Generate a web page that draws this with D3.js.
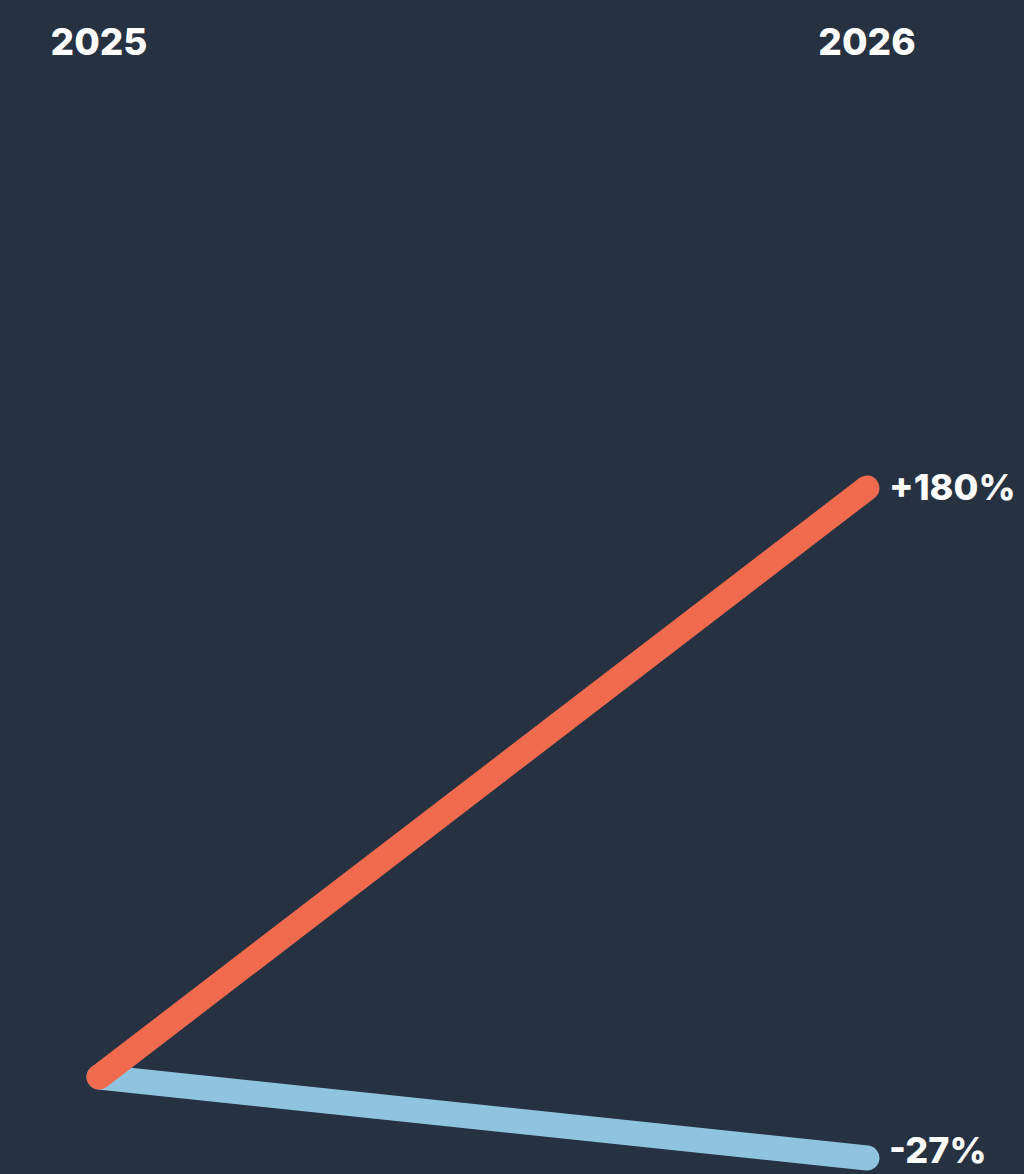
<!DOCTYPE html>
<html>
<head>
<meta charset="utf-8">
<script src="https://cdn.jsdelivr.net/npm/d3@7"></script>
<style>
  html, body { margin: 0; padding: 0; background: #263141; }
  svg { display: block; }
</style>
</head>
<body>
<div id="chart"></div>
<script>
const years = ["2025", "2026"];
const seriesNames = ["Red series", "Blue series"];
const redValues = [0, 180];
const blueValues = [0, -27];
const endLabels = ["+180%", "-27%"];
const seriesColors = ["#f06a4e", "#8ec4df"];

const W = 1024, H = 1174;
const svg = d3.select("#chart").append("svg")
  .attr("width", W).attr("height", H);

svg.append("rect").attr("width", W).attr("height", H).attr("fill", "#263141");

const x = d3.scalePoint().domain(years).range([99, 867]);
const y = d3.scaleLinear().domain([-27, 0, 180]).range([1158, 1077, 488]);

const series = [
  { name: seriesNames[1], values: blueValues, color: seriesColors[1], label: endLabels[1] },
  { name: seriesNames[0], values: redValues, color: seriesColors[0], label: endLabels[0] }
];

const line = d3.line()
  .x((d, i) => x(years[i]))
  .y(d => y(d));

svg.selectAll("path.series")
  .data(series)
  .join("path")
  .attr("class", "series")
  .attr("d", d => line(d.values))
  .attr("fill", "none")
  .attr("stroke", d => d.color)
  .attr("stroke-width", 25)
  .attr("stroke-linecap", "round")
  .attr("stroke-linejoin", "round");

const font = "Inter, 'Noto Sans', sans-serif";

svg.selectAll("text.year")
  .data(years)
  .join("text")
  .attr("class", "year")
  .attr("x", d => x(d))
  .attr("y", 55)
  .attr("text-anchor", "middle")
  .attr("fill", "#ffffff")
  .attr("font-family", font)
  .attr("font-weight", 800)
  .attr("font-size", 37)
  .text(d => d);

svg.selectAll("text.endlabel")
  .data(series)
  .join("text")
  .attr("class", "endlabel")
  .attr("x", x(years[1]) + 22)
  .attr("y", d => Math.min(y(d.values[1]) + 12, 1163))
  .attr("fill", "#ffffff")
  .attr("font-family", font)
  .attr("font-weight", 800)
  .attr("font-size", 36)
  .text(d => d.label);
</script>
</body>
</html>
